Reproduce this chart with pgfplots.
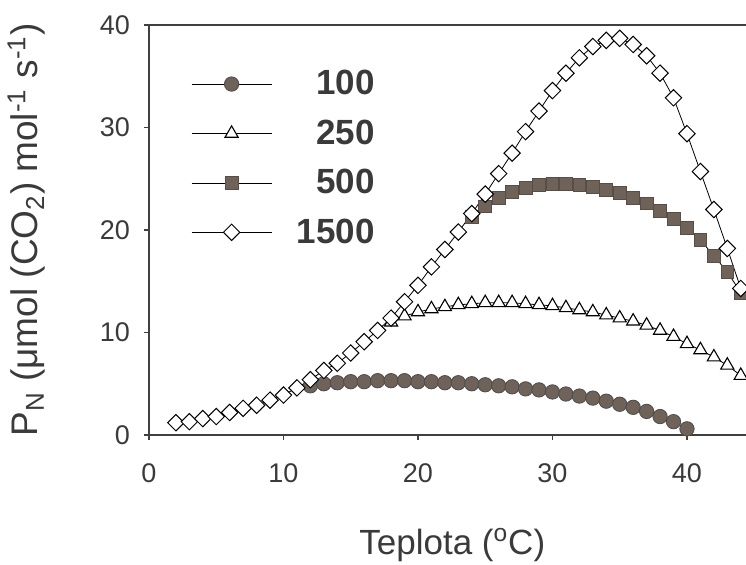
\documentclass[border=0pt]{standalone}
\usepackage{pgfplots}
\pgfplotsset{compat=1.18}
\usepackage{fontspec}
\setmainfont{Liberation Sans}
\definecolor{mk}{HTML}{6E6259}
\definecolor{txt}{HTML}{3A3A3A}

\pgfplotstableread{
x y
2 1.2
3 1.3
4 1.6
5 1.8
6 2.2
7 2.6
8 2.9
9 3.4
10 3.9
11 4.6
12 5.4
13 6.3
14 7.0
15 8.0
16 9.1
17 10.2
18 11.4
19 13.0
20 14.6
21 16.4
22 18.1
23 19.8
24 21.6
25 23.5
26 25.5
27 27.5
28 29.6
29 31.6
30 33.6
31 35.3
32 36.8
33 37.9
34 38.5
35 38.7
36 38.1
37 37.0
38 35.3
39 32.9
40 29.4
41 25.7
42 22.0
43 18.2
44 14.3
}\tblA

\pgfplotstableread{
x y
24 21.3
25 22.3
26 23.1
27 23.7
28 24.1
29 24.4
30 24.5
31 24.5
32 24.4
33 24.2
34 23.9
35 23.6
36 23.1
37 22.6
38 21.9
39 21.1
40 20.2
41 19.0
42 17.5
43 15.9
44 13.9
}\tblB

\pgfplotstableread{
x y
18 11.0
19 11.6
20 12.0
21 12.3
22 12.5
23 12.7
24 12.8
25 12.9
26 12.9
27 12.9
28 12.8
29 12.7
30 12.6
31 12.4
32 12.2
33 12.0
34 11.7
35 11.4
36 11.1
37 10.7
38 10.2
39 9.6
40 8.9
41 8.3
42 7.6
43 6.8
44 5.8
}\tblC

\pgfplotstableread{
x y
12 4.8
13 5.0
14 5.1
15 5.2
16 5.2
17 5.3
18 5.3
19 5.3
20 5.2
21 5.2
22 5.1
23 5.1
24 5.0
25 4.9
26 4.8
27 4.7
28 4.5
29 4.4
30 4.2
31 4.0
32 3.8
33 3.6
34 3.3
35 3.0
36 2.7
37 2.3
38 1.8
39 1.3
40 0.6
}\tblD

\begin{document}
\begin{tikzpicture}
\path[use as bounding box] (-74.5bp,-65bp) rectangle (298.5bp,217.5bp);
\begin{axis}[
  scale only axis,
  width=298.5bp, height=205bp,
  xmin=0, xmax=44.39, ymin=0, ymax=40,
  axis x line=box, axis y line=left,
  axis line style={-, color=black!75, line width=0.6bp},
  xtick={0,10,20,30,40}, ytick={0,10,20,30,40},
  xtick pos=bottom, ytick pos=left,
  tick align=outside, major tick length=2.5bp,
  tick style={color=black!75, line width=0.6bp},
  /pgf/number format/assume math mode=true,
  ticklabel style={font=\fontsize{13.5bp}{15bp}\selectfont, color=txt},
  xticklabel style={yshift=-8.5bp},
  yticklabel style={xshift=-3.5bp},
  xlabel={Teplota (\textsuperscript{o}C)},
  ylabel={P\textsubscript{N} (μmol (CO\textsubscript{2}) mol\textsuperscript{-1} s\textsuperscript{-1})},
  label style={color=txt},
  xlabel style={font=\fontsize{17.5bp}{20bp}\selectfont, at={(axis description cs:0.508,-0.268)}, anchor=center},
  ylabel style={font=\fontsize{18.5bp}{21bp}\selectfont, at={(axis description cs:-0.205,0.5)}, anchor=center},
  legend style={draw=none, fill=none, at={(axis description cs:0.060,0.905)}, anchor=north west,
    font=\fontsize{17.5bp}{20bp}\selectfont\bfseries, text=txt, row sep=9bp, column sep=11.5bp,
    nodes={inner sep=1bp}},
  legend cell align=right,
  legend image code/.code={\draw[mark repeat=2,mark phase=2,#1] plot coordinates {(0bp,0bp) (20bp,0bp) (40bp,0bp)};},
]
\addplot[black, line width=0.4bp, mark=*, mark size=3.6bp, mark options={fill=mk, draw=black!70, line width=0.4bp}] table {\tblD};
\addlegendentry{100}
\addplot[black, line width=0.4bp, mark=triangle*, mark size=3.8bp, mark options={fill=white, draw=black, line width=0.55bp}] table {\tblC};
\addlegendentry{250}
\addplot[black, line width=0.4bp, mark=square*, mark size=3.2bp, mark options={fill=mk, draw=mk!80!black, line width=0.4bp}] table {\tblB};
\addlegendentry{500}
\addplot[black, line width=0.4bp, mark=square*, mark size=2.9bp, mark options={fill=white, draw=black, line width=0.5bp, rotate=45}] table {\tblA};
\addlegendentry{1500}
\end{axis}
\end{tikzpicture}
\end{document}
